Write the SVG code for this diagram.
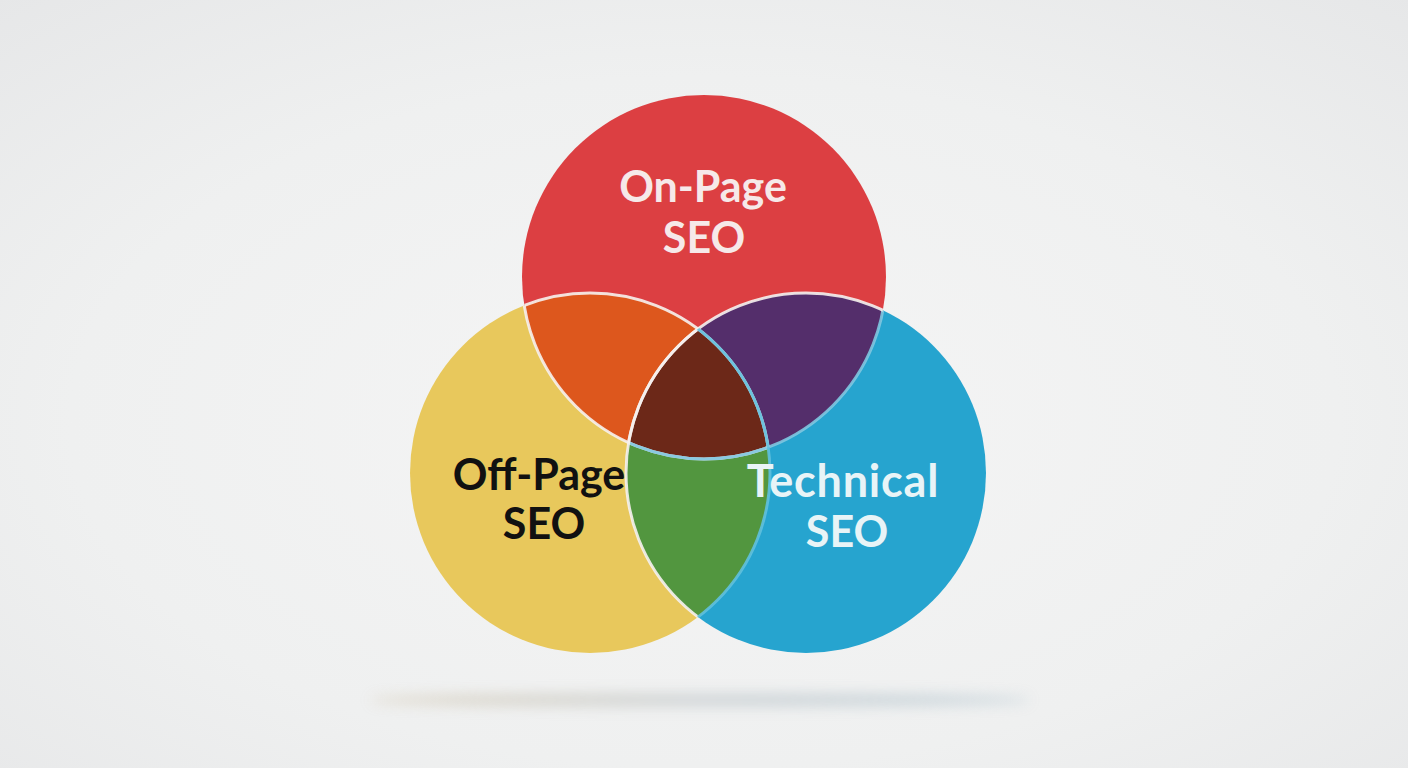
<svg xmlns="http://www.w3.org/2000/svg" width="1408" height="768" viewBox="0 0 1408 768">
<defs>
<radialGradient id="bg" cx="50%" cy="55%" r="75%">
<stop offset="0" stop-color="#F5F5F5"/>
<stop offset="0.6" stop-color="#EFF0F0"/>
<stop offset="1" stop-color="#E6E7E8"/>
</radialGradient>
<linearGradient id="sh" x1="0" y1="0" x2="1" y2="0">
<stop offset="0" stop-color="#C9B99A"/>
<stop offset="0.5" stop-color="#B8C0C4"/>
<stop offset="1" stop-color="#9FB8C6"/>
</linearGradient>
<filter id="blur" x="-20%" y="-300%" width="140%" height="700%"><feGaussianBlur stdDeviation="7"/></filter>
<clipPath id="cR"><circle cx="704" cy="277" r="182"/></clipPath>
<clipPath id="cY"><circle cx="590" cy="473" r="180"/></clipPath>
<clipPath id="cB"><circle cx="806" cy="473" r="180"/></clipPath>
<style>
.lbl{font-family:Lato,"Open Sans","DejaVu Sans",sans-serif;font-weight:700;font-size:43px;text-anchor:middle}
.edge{fill:none;stroke:#F6F1EE;stroke-width:3;stroke-opacity:0.9}
</style>
</defs>
<rect width="1408" height="768" fill="url(#bg)"/>
<ellipse cx="700" cy="700" rx="330" ry="6" fill="url(#sh)" opacity="0.6" filter="url(#blur)"/>
<g id="on-page">
<circle cx="704" cy="277" r="182" fill="#DC3F42"/>
</g>
<g id="off-page">
<circle cx="590" cy="473" r="180" fill="#E8C85C"/>
</g>
<g id="technical">
<circle cx="806" cy="473" r="180" fill="#26A4CF"/>
</g>
<g id="overlaps">
<g clip-path="url(#cR)"><circle cx="590" cy="473" r="180" fill="#DD571D"/></g>
<g clip-path="url(#cR)"><circle cx="806" cy="473" r="180" fill="#542E6B"/></g>
<g clip-path="url(#cY)"><circle cx="806" cy="473" r="180" fill="#52963F"/></g>
<g clip-path="url(#cR)"><g clip-path="url(#cY)"><circle cx="806" cy="473" r="180" fill="#6C2818"/></g></g>
</g>
<g id="connectors">
<g clip-path="url(#cY)"><circle class="edge" cx="704" cy="277" r="182"/></g>
<g clip-path="url(#cB)"><circle class="edge" cx="704" cy="277" r="182" style="stroke:#7FC6E0"/></g>
<g clip-path="url(#cR)"><circle class="edge" cx="590" cy="473" r="180"/></g>
<g clip-path="url(#cR)"><circle class="edge" cx="806" cy="473" r="180"/></g>
<g clip-path="url(#cY)"><circle class="edge" cx="806" cy="473" r="180"/></g>
<g clip-path="url(#cB)"><circle class="edge" cx="590" cy="473" r="180" style="stroke:#5FC0DE"/></g>
</g>
<g id="labels">
<text class="lbl" x="703" y="202" fill="#F6E9E9">On-Page</text>
<text class="lbl" x="704" y="253" fill="#F6E9E9">SEO</text>
<text class="lbl" x="539" y="490" fill="#111111">Off-Page</text>
<text class="lbl" x="544" y="539" fill="#111111">SEO</text>
<text class="lbl" x="843" y="497" fill="#E8F4F7" style="font-size:45px;letter-spacing:0.8px">Technical</text>
<text class="lbl" x="847" y="547" fill="#E8F4F7">SEO</text>
</g>
</svg>
